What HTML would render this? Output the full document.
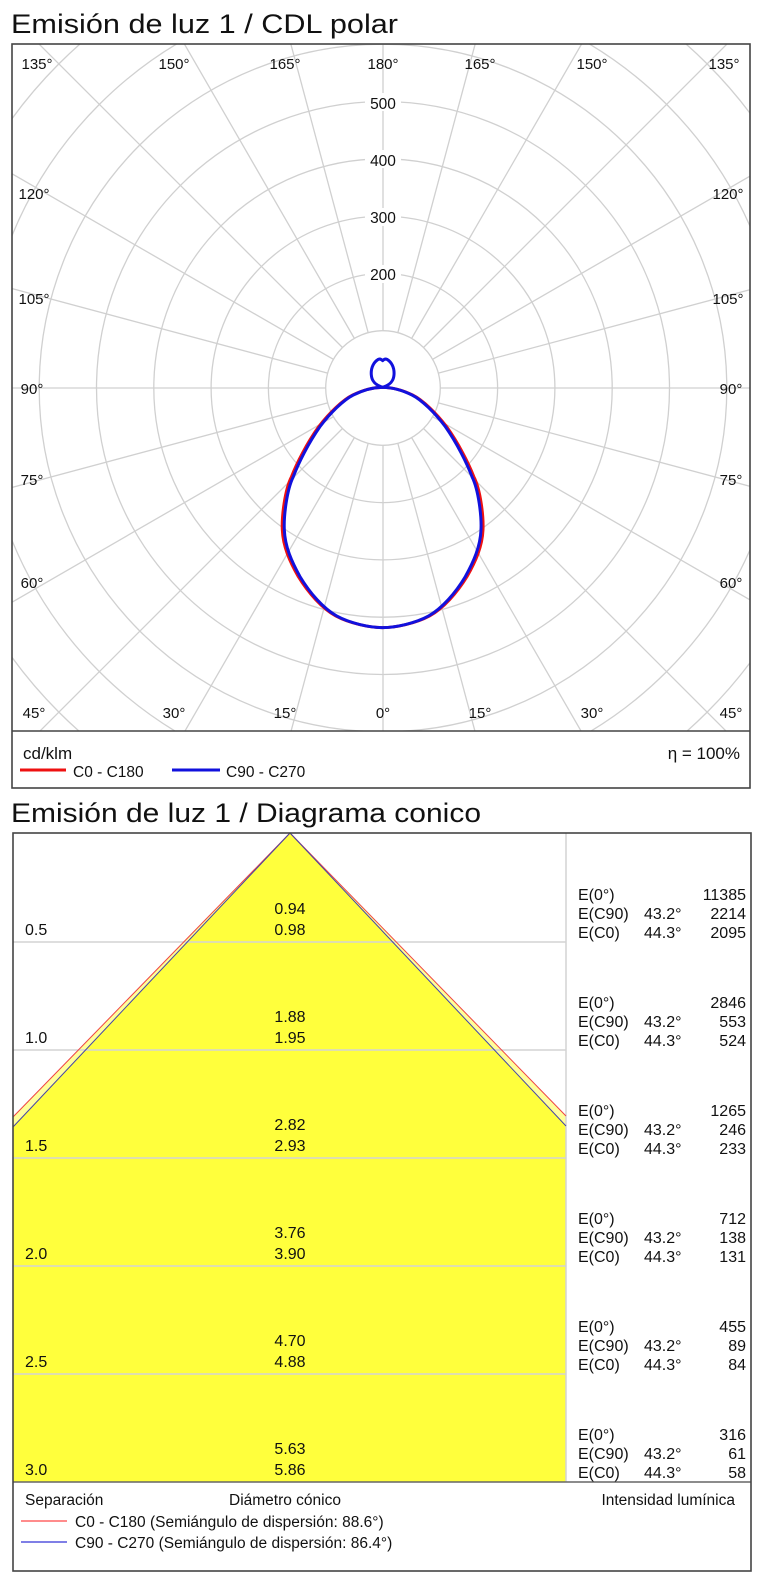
<!DOCTYPE html>
<html><head><meta charset="utf-8"><style>
html,body{margin:0;padding:0;background:#fff}
svg{display:block}
text{font-family:"Liberation Sans",Arial,sans-serif;fill:#111}
</style></head><body>
<svg width="764" height="1587" viewBox="0 0 764 1587" xmlns="http://www.w3.org/2000/svg">
<defs>
<clipPath id="pc"><rect x="12" y="44" width="738" height="687"/></clipPath>
</defs>
<text x="11" y="33" font-size="27" textLength="387" lengthAdjust="spacingAndGlyphs">Emisión de luz 1 / CDL polar</text>

<g clip-path="url(#pc)" stroke="#d0d0d0" stroke-width="1.3" fill="none">
<circle cx="383" cy="388" r="57.3"/>
<circle cx="383" cy="388" r="114.6"/>
<circle cx="383" cy="388" r="171.9"/>
<circle cx="383" cy="388" r="229.2"/>
<circle cx="383" cy="388" r="286.5"/>
<circle cx="383" cy="388" r="343.8"/>
<circle cx="383" cy="388" r="401.1"/>
<circle cx="383" cy="388" r="458.4"/>
<circle cx="383" cy="388" r="515.7"/>
<line x1="383" y1="445.3" x2="383" y2="1000"/>
<line x1="383" y1="445.3" x2="383" y2="1000" transform="rotate(15 383 388)"/>
<line x1="383" y1="445.3" x2="383" y2="1000" transform="rotate(30 383 388)"/>
<line x1="383" y1="445.3" x2="383" y2="1000" transform="rotate(45 383 388)"/>
<line x1="383" y1="445.3" x2="383" y2="1000" transform="rotate(60 383 388)"/>
<line x1="383" y1="445.3" x2="383" y2="1000" transform="rotate(75 383 388)"/>
<line x1="383" y1="445.3" x2="383" y2="1000" transform="rotate(90 383 388)"/>
<line x1="383" y1="445.3" x2="383" y2="1000" transform="rotate(105 383 388)"/>
<line x1="383" y1="445.3" x2="383" y2="1000" transform="rotate(120 383 388)"/>
<line x1="383" y1="445.3" x2="383" y2="1000" transform="rotate(135 383 388)"/>
<line x1="383" y1="445.3" x2="383" y2="1000" transform="rotate(150 383 388)"/>
<line x1="383" y1="445.3" x2="383" y2="1000" transform="rotate(165 383 388)"/>
<line x1="383" y1="445.3" x2="383" y2="1000" transform="rotate(180 383 388)"/>
<line x1="383" y1="445.3" x2="383" y2="1000" transform="rotate(195 383 388)"/>
<line x1="383" y1="445.3" x2="383" y2="1000" transform="rotate(210 383 388)"/>
<line x1="383" y1="445.3" x2="383" y2="1000" transform="rotate(225 383 388)"/>
<line x1="383" y1="445.3" x2="383" y2="1000" transform="rotate(240 383 388)"/>
<line x1="383" y1="445.3" x2="383" y2="1000" transform="rotate(255 383 388)"/>
<line x1="383" y1="445.3" x2="383" y2="1000" transform="rotate(270 383 388)"/>
<line x1="383" y1="445.3" x2="383" y2="1000" transform="rotate(285 383 388)"/>
<line x1="383" y1="445.3" x2="383" y2="1000" transform="rotate(300 383 388)"/>
<line x1="383" y1="445.3" x2="383" y2="1000" transform="rotate(315 383 388)"/>
<line x1="383" y1="445.3" x2="383" y2="1000" transform="rotate(330 383 388)"/>
<line x1="383" y1="445.3" x2="383" y2="1000" transform="rotate(345 383 388)"/>
</g>
<g font-size="15.5" text-anchor="middle">
<rect x="365" y="265" width="36" height="18" fill="#fff"/><text x="383" y="280">200</text>
<rect x="365" y="208" width="36" height="18" fill="#fff"/><text x="383" y="223">300</text>
<rect x="365" y="150" width="36" height="18" fill="#fff"/><text x="383" y="166">400</text>
<rect x="365" y="93" width="36" height="18" fill="#fff"/><text x="383" y="109">500</text>
</g>
<g transform="translate(250,330) scale(0.3333)" fill="none" stroke-width="9" stroke-linejoin="round">
<path transform="translate(398,0) scale(1.02,1) translate(-398,0)" stroke="#ee1111" d="M398,893 C360,893 300,880 260,858 C220,835 180,790 150,740 C125,695 105,650 103,600 C101,560 110,480 130,440 C145,400 175,340 210,290 C240,250 280,210 310,195 C340,180 370,172 398,172 C426,172 456,180 486,195 C516,210 556,250 586,290 C621,340 651,400 666,440 C686,480 695,560 693,600 C691,650 671,695 646,740 C616,790 576,835 536,858 C496,880 436,893 398,893 Z"/>
<path stroke="#1111dd" d="M398,893 C360,893 300,880 260,858 C220,835 180,790 150,740 C125,695 105,650 103,600 C101,560 110,480 130,440 C145,400 175,340 210,290 C240,250 280,210 310,195 C340,180 370,172 398,172 C426,172 456,180 486,195 C516,210 556,250 586,290 C621,340 651,400 666,440 C686,480 695,560 693,600 C691,650 671,695 646,740 C616,790 576,835 536,858 C496,880 436,893 398,893 Z"/>
<path stroke="#1111dd" d="M398,172 C385,168 366,160 364,135 C362,112 372,96 385,88 C392,85 396,90 398,92 C400,90 404,85 411,88 C424,96 434,112 432,135 C430,160 411,168 398,172 Z"/>
</g>
<g font-size="15" text-anchor="middle">
<text x="37" y="69">135°</text><text x="174" y="69">150°</text><text x="285" y="69">165°</text><text x="383" y="69">180°</text>
<text x="480" y="69">165°</text><text x="592" y="69">150°</text><text x="724" y="69">135°</text>
<text x="34" y="199">120°</text><text x="34" y="304">105°</text><text x="32" y="394">90°</text><text x="32" y="485">75°</text><text x="32" y="588">60°</text>
<text x="728" y="199">120°</text><text x="728" y="304">105°</text><text x="731" y="394">90°</text><text x="731" y="485">75°</text><text x="731" y="588">60°</text>
<text x="34" y="718">45°</text><text x="174" y="718">30°</text><text x="285" y="718">15°</text><text x="383" y="718">0°</text>
<text x="480" y="718">15°</text><text x="592" y="718">30°</text><text x="731" y="718">45°</text>
</g>
<rect x="12" y="44" width="738" height="744" fill="none" stroke="#444" stroke-width="1.6"/>
<line x1="12" y1="731" x2="750" y2="731" stroke="#444" stroke-width="1.6"/>
<text x="23" y="759" font-size="17">cd/klm</text>
<text x="740" y="759" font-size="17" text-anchor="end">η = 100%</text>
<line x1="20" y1="770" x2="66" y2="770" stroke="#ee1111" stroke-width="3"/>
<text x="73" y="777" font-size="15.5">C0 - C180</text>
<line x1="172" y1="770" x2="220" y2="770" stroke="#1111dd" stroke-width="3"/>
<text x="226" y="777" font-size="15.5">C90 - C270</text>

<text x="11" y="822" font-size="27" textLength="470" lengthAdjust="spacingAndGlyphs">Emisión de luz 1 / Diagrama conico</text>
<polygon points="290,833 13,1117 13,1482 566,1482 566,1116" fill="#ffff99"/>
<polygon points="290,833 13,1127 13,1482 566,1482 566,1126" fill="#ffff3c"/>
<g stroke="#d4d4d4" stroke-width="1.5">
<line x1="13" y1="942" x2="566" y2="942"/><line x1="13" y1="1050" x2="566" y2="1050"/>
<line x1="13" y1="1158" x2="566" y2="1158"/><line x1="13" y1="1266" x2="566" y2="1266"/>
<line x1="13" y1="1374" x2="566" y2="1374"/>
<line x1="566" y1="833" x2="566" y2="1482"/>
</g>
<line x1="13" y1="1482" x2="751" y2="1482" stroke="#666" stroke-width="1.5"/>
<polyline points="13,1117 290,833 566,1116" fill="none" stroke="#ee4444" stroke-width="1"/>
<polyline points="13,1127 290,833 566,1126" fill="none" stroke="#4444aa" stroke-width="1"/>
<rect x="13" y="833" width="738" height="738" fill="none" stroke="#444" stroke-width="1.6"/>
<g font-size="16">
<text x="25" y="935">0.5</text><text x="25" y="1043">1.0</text><text x="25" y="1151">1.5</text>
<text x="25" y="1259">2.0</text><text x="25" y="1367">2.5</text><text x="25" y="1475">3.0</text>
</g>
<g font-size="16" text-anchor="middle">
<text x="290" y="914">0.94</text><text x="290" y="935">0.98</text>
<text x="290" y="1022">1.88</text><text x="290" y="1043">1.95</text>
<text x="290" y="1130">2.82</text><text x="290" y="1151">2.93</text>
<text x="290" y="1238">3.76</text><text x="290" y="1259">3.90</text>
<text x="290" y="1346">4.70</text><text x="290" y="1367">4.88</text>
<text x="290" y="1454">5.63</text><text x="290" y="1475">5.86</text>
</g>
<g font-size="16">
<g><text x="578" y="900">E(0°)</text><text x="578" y="919">E(C90)</text><text x="578" y="938">E(C0)</text><text x="644" y="919">43.2°</text><text x="644" y="938">44.3°</text>
<text x="746" y="900" text-anchor="end">11385</text><text x="746" y="919" text-anchor="end">2214</text><text x="746" y="938" text-anchor="end">2095</text></g>
<g transform="translate(0,108)"><text x="578" y="900">E(0°)</text><text x="578" y="919">E(C90)</text><text x="578" y="938">E(C0)</text><text x="644" y="919">43.2°</text><text x="644" y="938">44.3°</text>
<text x="746" y="900" text-anchor="end">2846</text><text x="746" y="919" text-anchor="end">553</text><text x="746" y="938" text-anchor="end">524</text></g>
<g transform="translate(0,216)"><text x="578" y="900">E(0°)</text><text x="578" y="919">E(C90)</text><text x="578" y="938">E(C0)</text><text x="644" y="919">43.2°</text><text x="644" y="938">44.3°</text>
<text x="746" y="900" text-anchor="end">1265</text><text x="746" y="919" text-anchor="end">246</text><text x="746" y="938" text-anchor="end">233</text></g>
<g transform="translate(0,324)"><text x="578" y="900">E(0°)</text><text x="578" y="919">E(C90)</text><text x="578" y="938">E(C0)</text><text x="644" y="919">43.2°</text><text x="644" y="938">44.3°</text>
<text x="746" y="900" text-anchor="end">712</text><text x="746" y="919" text-anchor="end">138</text><text x="746" y="938" text-anchor="end">131</text></g>
<g transform="translate(0,432)"><text x="578" y="900">E(0°)</text><text x="578" y="919">E(C90)</text><text x="578" y="938">E(C0)</text><text x="644" y="919">43.2°</text><text x="644" y="938">44.3°</text>
<text x="746" y="900" text-anchor="end">455</text><text x="746" y="919" text-anchor="end">89</text><text x="746" y="938" text-anchor="end">84</text></g>
<g transform="translate(0,540)"><text x="578" y="900">E(0°)</text><text x="578" y="919">E(C90)</text><text x="578" y="938">E(C0)</text><text x="644" y="919">43.2°</text><text x="644" y="938">44.3°</text>
<text x="746" y="900" text-anchor="end">316</text><text x="746" y="919" text-anchor="end">61</text><text x="746" y="938" text-anchor="end">58</text></g>
</g>
<g font-size="15.5">
<text x="25" y="1505">Separación</text>
<text x="229" y="1505">Diámetro cónico</text>
<text x="735" y="1505" text-anchor="end">Intensidad lumínica</text>
<line x1="21" y1="1521" x2="67" y2="1521" stroke="#ff6666" stroke-width="1.5"/>
<text x="75" y="1527">C0 - C180 (Semiángulo de dispersión: 88.6°)</text>
<line x1="21" y1="1542" x2="67" y2="1542" stroke="#5555dd" stroke-width="1.5"/>
<text x="75" y="1548">C90 - C270 (Semiángulo de dispersión: 86.4°)</text>
</g>
</svg>
</body></html>
